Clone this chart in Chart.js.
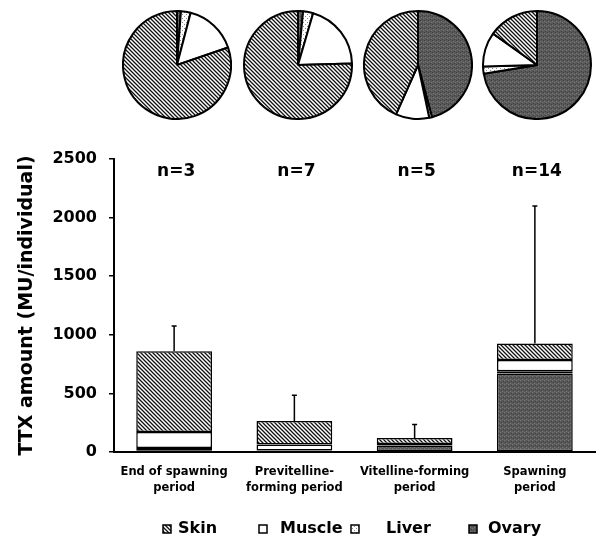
<!DOCTYPE html>
<html lang="en">
<head>
    <meta charset="UTF-8">
    <title>TTX amount by period</title>
    <style>
        body {
            margin: 0;
            background-color: #fff;
        }

        .wrap {
            position: relative;
            width: 596px;
            height: 539px;
        }

        .wrap canvas {
            position: absolute;
        }
    </style>
</head>
<body>
    <div class="wrap">
        <canvas id="barChart" width="596" height="539" style="left:0;top:0"></canvas>
        <canvas id="pie0" width="110" height="110" style="left:122px;top:10px"></canvas>
        <canvas id="pie1" width="110" height="110" style="left:243px;top:10px"></canvas>
        <canvas id="pie2" width="110" height="110" style="left:363px;top:10px"></canvas>
        <canvas id="pie3" width="110" height="110" style="left:482px;top:10px"></canvas>
    </div>

    <script src="https://cdn.jsdelivr.net/npm/chart.js"></script>
    <script>
        // periods (x categories)
        const periods = [
            ['End of spawning', 'period'],
            ['Previtelline-', 'forming period'],
            ['Vitelline-forming', 'period'],
            ['Spawning', 'period']
        ];
        const nLabels = ['n=3', 'n=7', 'n=5', 'n=14'];

        // mean TTX per tissue (MU/individual)
        const ovary  = [10, 4, 55, 670];
        const liver  = [25, 8, 1, 20];
        const muscle = [135, 53, 12, 95];
        const skin   = [690, 200, 52, 140];
        // upper error (SD) on the total
        const sd     = [215, 220, 115, 1175];

        const yTicks = [0, 500, 1000, 1500, 2000, 2500];

        Chart.defaults.font.family = "'DejaVu Sans', Verdana, sans-serif";
        Chart.defaults.font.weight = 'bold';
        Chart.defaults.color = '#000';

        // fill patterns
        function makePattern(draw) {
            const c = document.createElement('canvas');
            c.width = 4;
            c.height = 4;
            const g = c.getContext('2d');
            draw(g);
            return g.createPattern(c, 'repeat');
        }

        const skinFill = makePattern(g => {
            g.fillStyle = '#fff';
            g.fillRect(0, 0, 4, 4);
            g.strokeStyle = '#111';
            g.lineWidth = 1.3;
            g.beginPath();
            g.moveTo(-1, -1); g.lineTo(5, 5);
            g.moveTo(-3, 1); g.lineTo(1, 5);
            g.moveTo(3, -1); g.lineTo(5, 1);
            g.stroke();
        });

        const liverFill = makePattern(g => {
            g.fillStyle = '#fff';
            g.fillRect(0, 0, 4, 4);
            g.fillStyle = '#888';
            g.fillRect(0, 0, 1, 1);
            g.fillRect(2, 2, 1, 1);
        });

        const ovaryFill = makePattern(g => {
            g.fillStyle = '#595959';
            g.fillRect(0, 0, 4, 4);
            g.fillStyle = '#777';
            g.fillRect(0, 0, 1, 1);
            g.fillRect(2, 3, 1, 1);
            g.fillStyle = '#404040';
            g.fillRect(3, 1, 1, 1);
            g.fillRect(1, 2, 1, 1);
        });

        const muscleFill = '#fff';

        // error bars + n labels
        const extrasPlugin = {
            id: 'extras',
            afterDatasetsDraw(chart) {
                const ctx = chart.ctx;
                const x = chart.scales.x;
                const y = chart.scales.y;
                ctx.save();
                ctx.strokeStyle = '#000';
                ctx.lineWidth = 1.5;
                periods.forEach((p, i) => {
                    const total = ovary[i] + liver[i] + muscle[i] + skin[i];
                    const px = x.getPixelForValue(i);
                    const y0 = y.getPixelForValue(total);
                    const y1 = y.getPixelForValue(total + sd[i]);
                    ctx.beginPath();
                    ctx.moveTo(px, y0);
                    ctx.lineTo(px, y1);
                    ctx.moveTo(px - 2.5, y1);
                    ctx.lineTo(px + 2.5, y1);
                    ctx.stroke();
                });
                ctx.fillStyle = '#000';
                ctx.font = "bold 17px 'DejaVu Sans'";
                ctx.textAlign = 'center';
                ctx.textBaseline = 'middle';
                nLabels.forEach((t, i) => {
                    ctx.fillText(t, x.getPixelForValue(i) + 2, chart.chartArea.top + 13);
                });
                ctx.restore();
            }
        };

        // legend row under the axis (Skin, Muscle, Liver, Ovary)
        const legendBoxX = [163, 259, 351, 469];
        const legendTextX = [178, 280, 386, 488];
        const legendPlugin = {
            id: 'rowLegend',
            afterDraw(chart) {
                const ctx = chart.ctx;
                const sets = chart.data.datasets.slice().reverse();
                const cy = 529;
                ctx.save();
                ctx.font = "bold 16px 'DejaVu Sans'";
                ctx.textBaseline = 'middle';
                ctx.textAlign = 'left';
                sets.forEach((ds, i) => {
                    ctx.fillStyle = ds.backgroundColor;
                    ctx.fillRect(legendBoxX[i], cy - 4, 8, 8);
                    ctx.strokeStyle = '#000';
                    ctx.lineWidth = 1.5;
                    ctx.strokeRect(legendBoxX[i], cy - 4, 8, 8);
                    ctx.fillStyle = '#000';
                    ctx.fillText(ds.label, legendTextX[i], cy);
                });
                ctx.restore();
            }
        };

        const barStyle = {
            borderColor: '#000',
            borderWidth: 1.5,
            borderSkipped: false,
            categoryPercentage: 1,
            barPercentage: 0.63
        };

        new Chart(document.getElementById('barChart'), {
            type: 'bar',
            data: {
                labels: periods,
                datasets: [
                    { label: 'Ovary', data: ovary, backgroundColor: ovaryFill, ...barStyle },
                    { label: 'Liver', data: liver, backgroundColor: liverFill, ...barStyle },
                    { label: 'Muscle', data: muscle, backgroundColor: muscleFill, ...barStyle },
                    { label: 'Skin', data: skin, backgroundColor: skinFill, ...barStyle }
                ]
            },
            options: {
                responsive: false,
                animation: false,
                layout: {
                    padding: { top: 159, right: 1, left: 0, bottom: 0 }
                },
                scales: {
                    x: {
                        stacked: true,
                        afterFit: scale => {
                            scale.height = 87;
                        },
                        grid: { drawOnChartArea: false, drawTicks: false },
                        border: { display: true, color: '#000', width: 2 },
                        ticks: {
                            padding: 12,
                            maxRotation: 0,
                            autoSkip: false,
                            font: { size: 11.5, weight: 'bold', lineHeight: 1.42 }
                        }
                    },
                    y: {
                        stacked: true,
                        min: 0,
                        max: 2500,
                        afterBuildTicks: scale => {
                            scale.ticks = yTicks.map(v => ({ value: v }));
                        },
                        afterFit: scale => {
                            scale.width = 114;
                        },
                        grid: { drawOnChartArea: false, color: '#000', lineWidth: 1.5, tickLength: 5 },
                        border: { display: true, color: '#000', width: 2 },
                        ticks: {
                            padding: 12,
                            callback: v => String(v),
                            font: { size: 16, weight: 'bold' }
                        },
                        title: {
                            display: true,
                            text: 'TTX amount (MU/individual)',
                            padding: { top: 16, bottom: 0 },
                            font: { size: 19, weight: 'bold' }
                        }
                    }
                },
                plugins: {
                    legend: { display: false },
                    tooltip: { enabled: false }
                }
            },
            plugins: [extrasPlugin, legendPlugin]
        });

        // pie charts of tissue share, one per period
        periods.forEach((p, i) => {
            new Chart(document.getElementById('pie' + i), {
                type: 'pie',
                data: {
                    labels: ['Ovary', 'Liver', 'Muscle', 'Skin'],
                    datasets: [{
                        data: [ovary[i], liver[i], muscle[i], skin[i]],
                        backgroundColor: [ovaryFill, liverFill, muscleFill, skinFill],
                        borderColor: '#000',
                        borderWidth: 2
                    }]
                },
                options: {
                    responsive: false,
                    animation: false,
                    plugins: {
                        legend: { display: false },
                        tooltip: { enabled: false }
                    }
                }
            });
        });
    </script>
</body>
</html>
